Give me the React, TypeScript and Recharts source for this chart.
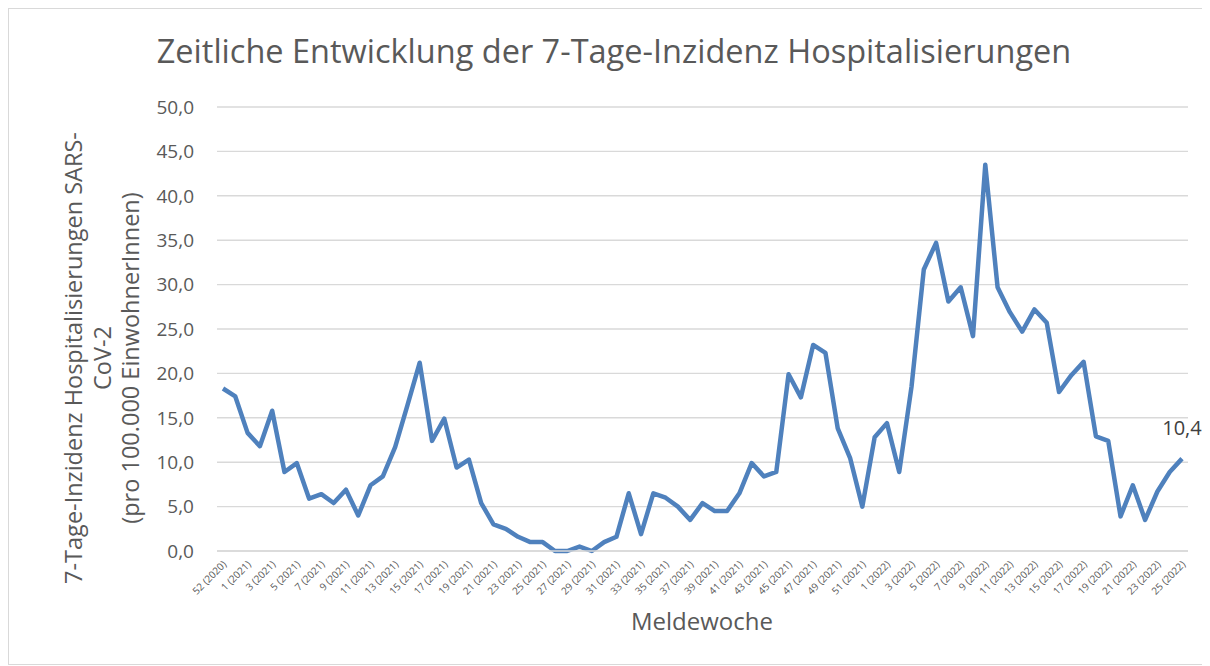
import { LineChart, Line, XAxis, YAxis, CartesianGrid } from "recharts";

const weeks = [
  "52 (2020)", "53 (2020)",
  "1 (2021)", "2 (2021)", "3 (2021)", "4 (2021)", "5 (2021)", "6 (2021)", "7 (2021)", "8 (2021)",
  "9 (2021)", "10 (2021)", "11 (2021)", "12 (2021)", "13 (2021)", "14 (2021)", "15 (2021)", "16 (2021)",
  "17 (2021)", "18 (2021)", "19 (2021)", "20 (2021)", "21 (2021)", "22 (2021)", "23 (2021)", "24 (2021)",
  "25 (2021)", "26 (2021)", "27 (2021)", "28 (2021)", "29 (2021)", "30 (2021)", "31 (2021)", "32 (2021)",
  "33 (2021)", "34 (2021)", "35 (2021)", "36 (2021)", "37 (2021)", "38 (2021)", "39 (2021)", "40 (2021)",
  "41 (2021)", "42 (2021)", "43 (2021)", "44 (2021)", "45 (2021)", "46 (2021)", "47 (2021)", "48 (2021)",
  "49 (2021)", "50 (2021)", "51 (2021)", "52 (2021)",
  "1 (2022)", "2 (2022)", "3 (2022)", "4 (2022)", "5 (2022)", "6 (2022)", "7 (2022)", "8 (2022)",
  "9 (2022)", "10 (2022)", "11 (2022)", "12 (2022)", "13 (2022)", "14 (2022)", "15 (2022)", "16 (2022)",
  "17 (2022)", "18 (2022)", "19 (2022)", "20 (2022)", "21 (2022)", "22 (2022)", "23 (2022)", "24 (2022)",
  "25 (2022)",
];

const incidence = [
  18.3, 17.4,
  13.3, 11.8, 15.8, 8.9, 9.9, 5.9, 6.4, 5.4, 6.9, 4.0, 7.4, 8.4, 11.7, 16.4, 21.2, 12.4,
  14.9, 9.4, 10.3, 5.4, 3.0, 2.5, 1.6, 1.0, 1.0, 0.0, 0.0, 0.5, 0.0, 1.0, 1.6, 6.5,
  1.9, 6.5, 6.0, 5.0, 3.5, 5.4, 4.5, 4.5, 6.5, 9.9, 8.4, 8.9, 19.9, 17.3, 23.2, 22.3,
  13.8, 10.5, 5.0, 12.8,
  14.4, 8.9, 18.5, 31.7, 34.7, 28.1, 29.7, 24.2, 43.5, 29.7, 26.9, 24.7, 27.2, 25.7, 17.9, 19.8,
  21.3, 12.9, 12.4, 3.9, 7.4, 3.5, 6.7, 8.9, 10.4,
];

const yTicks = [0, 5, 10, 15, 20, 25, 30, 35, 40, 45, 50];

const data = weeks.map((w, i) => ({ week: w, value: incidence[i] }));

const fmt = (v: number) => v.toFixed(1).replace(".", ",");

const WeekTick = (props: any) => {
  const { x, y, payload } = props;
  return (
    <text
      x={x + 4}
      y={y}
      transform={`rotate(-45, ${x + 4}, ${y})`}
      textAnchor="end"
      fontSize={10}
      fill="#595959"
    >
      {payload.value}
    </text>
  );
};

// only the last point gets a value label
const LastLabel = (props: any) => {
  const { x, y, index, value } = props;
  if (index !== incidence.length - 1) return null;
  return (
    <text x={x} y={y - 24} textAnchor="middle" fontSize={20} fill="#404040">
      {fmt(value)}
    </text>
  );
};

export default function App() {
  return (
    <div
      style={{
        position: "relative",
        width: 1202,
        height: 657,
        boxSizing: "border-box",
        border: "1px solid #d9d9d9",
        borderRight: "none",
        fontFamily: "'Open Sans', sans-serif",
        color: "#595959",
      }}
    >
      <div
        style={{
          position: "absolute",
          left: 0,
          top: 20,
          width: 1210,
          textAlign: "center",
          fontSize: 32.5,
          lineHeight: "44px",
          marginLeft: 0,
        }}
      >
        Zeitliche Entwicklung der 7-Tage-Inzidenz Hospitalisierungen
      </div>

      <div
        style={{
          position: "absolute",
          left: 102 - 260 - 9,
          top: 358 - 45 - 9,
          width: 520,
          height: 90,
          transform: "rotate(-90deg)",
          textAlign: "center",
          fontSize: 23.5,
          lineHeight: "28.5px",
          paddingTop: 2,
          boxSizing: "border-box",
        }}
      >
        7-Tage-Inzidenz Hospitalisierungen SARS-
        <br />
        CoV-2
        <br />
        (pro 100.000 EinwohnerInnen)
      </div>

      <div
        style={{
          position: "absolute",
          left: 702 - 9 - 100,
          top: 605 - 9,
          width: 200,
          textAlign: "center",
          fontSize: 24,
          lineHeight: "32px",
        }}
      >
        Meldewoche
      </div>

      <LineChart
        width={1200}
        height={655}
        data={data}
        margin={{ top: 98, right: 21, bottom: 53, left: 128 }}
      >
        <CartesianGrid vertical={false} stroke="#d9d9d9" strokeWidth={1.4} />
        <XAxis
          dataKey="week"
          interval={1}
          height={60}
          tickLine={false}
          tickSize={0}
          tickMargin={14}
          axisLine={{ stroke: "#d9d9d9", strokeWidth: 1.4 }}
          tick={<WeekTick />}
          padding={{ left: 6, right: 6 }}
        />
        <YAxis
          width={80}
          domain={[0, 50]}
          ticks={yTicks}
          tickFormatter={fmt}
          axisLine={false}
          tickLine={false}
          tickSize={0}
          tickMargin={23}
          tick={{ fontSize: 19, fill: "#595959" }}
        />
        <Line
          type="linear"
          dataKey="value"
          stroke="#4f81bd"
          strokeWidth={4.5}
          strokeLinejoin="round"
          dot={false}
          isAnimationActive={false}
          label={<LastLabel />}
        />
      </LineChart>
    </div>
  );
}
